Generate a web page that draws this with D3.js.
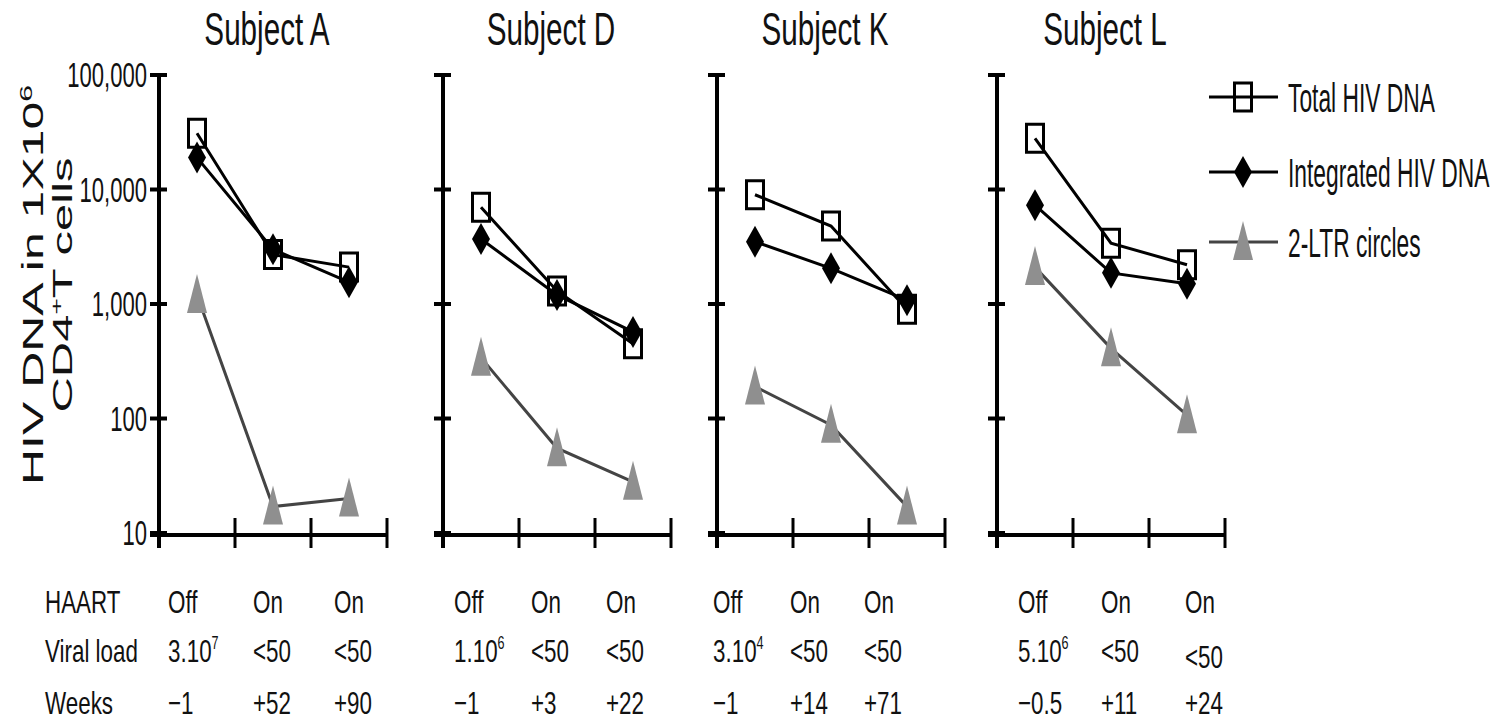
<!DOCTYPE html>
<html>
<head>
<meta charset="utf-8">
<script src="https://cdn.jsdelivr.net/npm/d3@7"></script>
<style>
  html, body { margin: 0; padding: 0; background: #fff; }
  svg { display: block; }
  text { font-family: "Liberation Sans", Arial, Helvetica, sans-serif; fill: #111; }
</style>
</head>
<body>
<svg id="chart" width="1501" height="722"></svg>
<script>
// ---------------- data ----------------
const subjects = ["Subject A", "Subject D", "Subject K", "Subject L"];
const timepoints = ["t1", "t2", "t3"];
const totalDNA      = [[31000, 2700, 2100], [7000, 1300, 450], [9000, 4800, 900], [28000, 3400, 2200]];
const integratedDNA = [[19000, 3000, 1550], [3700, 1200, 570], [3500, 2050, 1080], [7300, 1870, 1500]];
const ltrCircles    = [[1200, 17, 20], [340, 55, 28], [190, 88, 17], [2100, 410, 107]];
const haart     = [["Off", "On", "On"], ["Off", "On", "On"], ["Off", "On", "On"], ["Off", "On", "On"]];
const viralLoad = [[["3.10", "7"], ["<50"], ["<50"]], [["1.10", "6"], ["<50"], ["<50"]],
                   [["3.10", "4"], ["<50"], ["<50"]], [["5.10", "6"], ["<50"], ["<50"]]];
const weeks     = [["\u22121", "+52", "+90"], ["\u22121", "+3", "+22"], ["\u22121", "+14", "+71"], ["\u22120.5", "+11", "+24"]];
const rowLabels = ["HAART", "Viral load", "Weeks"];
const yTicks = [10, 100, 1000, 10000, 100000];
const seriesNames = ["Total HIV DNA", "Integrated HIV DNA", "2-LTR circles"];

// ---------------- layout ----------------
const panelX = [159, 443, 717, 997];
const panelW = 228;
const tableShift = [[-29, -20, -15], [-27, -26, -27], [-42, -41, -43], [-17, -10, -2]];
const rowY = [613, 662, 714];

const svg = d3.select("#chart");
const y = d3.scaleLog().domain([10, 100000]).range([533, 75]);
const fmt = d3.format(",");

function sText(g, x, yy, str, size, sx, anchor) {
  return g.append("text")
    .attr("transform", `translate(${x},${yy}) scale(${sx},1)`)
    .attr("font-size", size)
    .attr("text-anchor", anchor || "start")
    .text(str);
}

const squarePath = (w, h) => `M${-w},${-h}H${w}V${h}H${-w}Z`;
const diamondPath = (w, h) => `M0,${-h}L${w},0L0,${h}L${-w},0Z`;
const trianglePath = (w, up, down) => `M0,${-up}L${w},${down}L${-w},${down}Z`;

const series = [
  { data: totalDNA, line: "#000", marker: g => g.append("path").attr("d", squarePath(8.5, 14)).attr("fill", "none").attr("stroke", "#000").attr("stroke-width", 3) },
  { data: integratedDNA, line: "#000", marker: g => g.append("path").attr("d", diamondPath(9, 16)).attr("fill", "#000") },
  { data: ltrCircles, line: "#444", marker: g => g.append("path").attr("d", trianglePath(10, 21, 18)).attr("fill", "#8f8f8f") }
];

subjects.forEach((name, i) => {
  const x0 = panelX[i];
  const x = d3.scaleBand().domain(timepoints).range([x0, x0 + panelW]).padding(0);
  const cx = t => x(t) + x.bandwidth() / 2;
  const g = svg.append("g");

  // y axis
  const yAxis = d3.axisLeft(y).tickValues(yTicks).tickSize(0).tickFormat(i === 0 ? fmt : "");
  const ya = g.append("g").attr("transform", `translate(${x0},0)`).call(yAxis);
  ya.select(".domain").remove();
  ya.selectAll("text").remove();
  g.append("line").attr("x1", x0).attr("x2", x0).attr("y1", 75).attr("y2", 548)
    .attr("stroke", "#000").attr("stroke-width", 4);
  yTicks.forEach(v => {
    g.append("line").attr("x1", x0 - 9).attr("x2", x0 + 8).attr("y1", y(v)).attr("y2", y(v))
      .attr("stroke", "#000").attr("stroke-width", 4);
    if (i === 0) sText(g, x0 - 12, y(v) + 12, fmt(v), 35, 0.63, "end");
  });

  // x axis
  g.append("line").attr("x1", x0 - 9).attr("x2", x0 + panelW).attr("y1", 535).attr("y2", 535)
    .attr("stroke", "#000").attr("stroke-width", 4);
  const bounds = timepoints.map(t => x(t) + x.bandwidth()).concat([x0]);
  bounds.forEach(bx => {
    g.append("line").attr("x1", bx).attr("x2", bx).attr("y1", 518).attr("y2", 548)
      .attr("stroke", "#000").attr("stroke-width", 3);
  });

  // title
  sText(g, x0 + 108, 45, name, 46, 0.645, "middle");

  // series
  series.forEach(s => {
    const vals = s.data[i];
    const line = d3.line().x((d, k) => cx(timepoints[k])).y(d => y(d));
    g.append("path").attr("d", line(vals)).attr("fill", "none")
      .attr("stroke", s.line).attr("stroke-width", 3);
  });
  series.forEach(s => {
    s.data[i].forEach((v, k) => {
      const mg = g.append("g").attr("transform", `translate(${cx(timepoints[k])},${y(v)})`);
      s.marker(mg);
    });
  });

  // table
  timepoints.forEach((t, k) => {
    const lx = cx(t) + tableShift[i][k];
    sText(g, lx, rowY[0], haart[i][k], 32, 0.7);
    const vl = viralLoad[i][k];
    const dy = (i === 3 && k === 2) ? 6 : 0;
    const vt = sText(g, lx, rowY[1] + dy, "", 32, 0.7);
    vt.append("tspan").text(vl[0]);
    if (vl[1]) vt.append("tspan").attr("font-size", 18).attr("dy", -13).text(vl[1]);
    sText(g, lx, rowY[2], weeks[i][k], 32, 0.7);
  });
});

// row labels
rowLabels.forEach((r, k) => sText(svg, 45, rowY[k], r, 32, 0.7));

// y axis label
const yl1 = svg.append("text").attr("transform", "translate(43,285) scale(0.58,1) rotate(-90)")
  .attr("font-size", 50).attr("text-anchor", "middle");
yl1.append("tspan").text("HIV DNA in 1X10");
yl1.append("tspan").attr("font-size", 30).attr("dy", -19).text("6");
const yl2 = svg.append("text").attr("transform", "translate(72,285) scale(0.58,1) rotate(-90)")
  .attr("font-size", 49).attr("text-anchor", "middle");
yl2.append("tspan").text("CD4");
yl2.append("tspan").attr("font-size", 28).attr("dy", -18).text("+");
yl2.append("tspan").attr("dy", 18).text("T cells");

// legend
const legY = [97, 172, 242];
const legend = svg.append("g");
series.forEach((s, k) => {
  legend.append("line").attr("x1", 1209).attr("x2", 1278).attr("y1", legY[k]).attr("y2", legY[k])
    .attr("stroke", s.line).attr("stroke-width", 3);
  const mg = legend.append("g").attr("transform", `translate(1243,${legY[k]})`);
  s.marker(mg);
  sText(legend, 1288, legY[k] + 15, seriesNames[k], 40, 0.57);
});
</script>
</body>
</html>
